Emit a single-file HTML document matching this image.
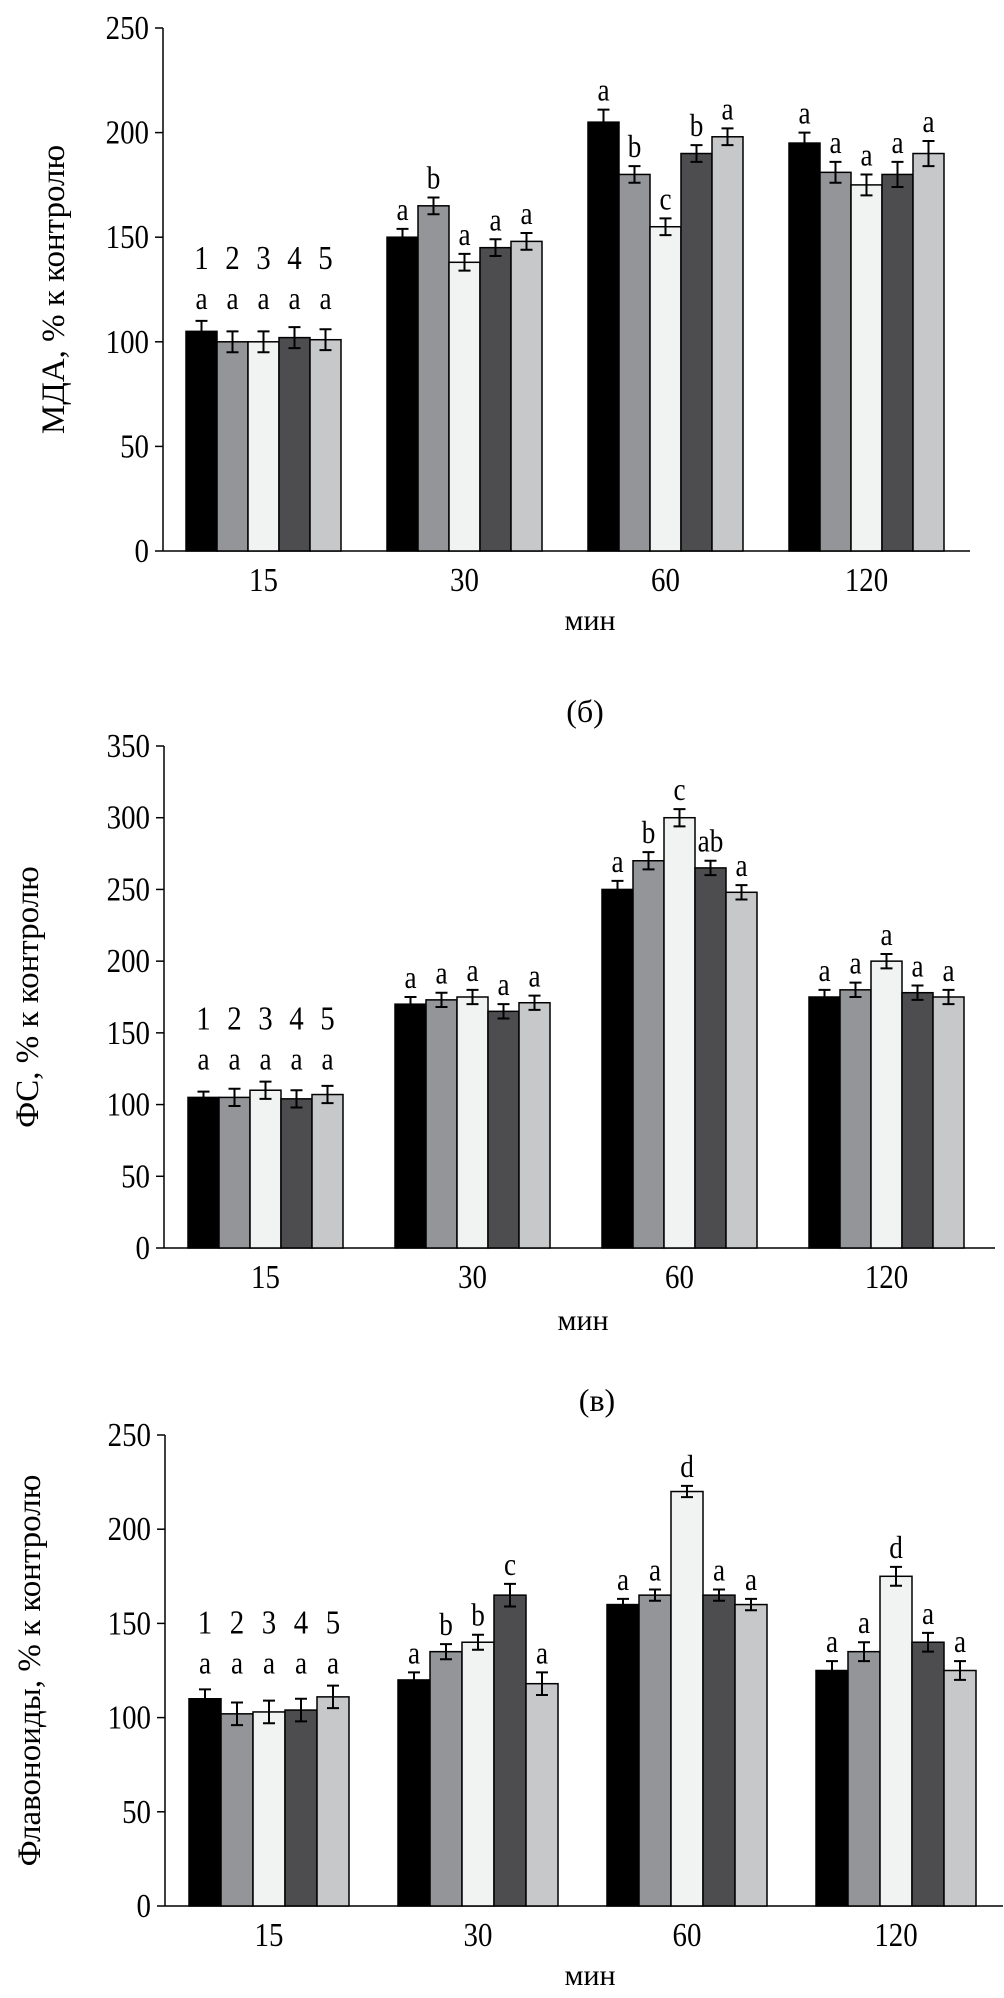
<!DOCTYPE html>
<html><head><meta charset="utf-8"><style>
html,body{margin:0;padding:0;background:#fff;}
svg{display:block;}
text{font-family:"Liberation Serif","DejaVu Serif",serif;fill:#000;}
</style></head><body>
<svg id="fig" width="1004" height="1998" viewBox="0 0 1004 1998" xmlns="http://www.w3.org/2000/svg"></svg>
<script>
const categories = ["15","30","60","120"];
const seriesColors = ["#000000","#939598","#f1f2f2","#4d4d4f","#c7c8ca"];
const seriesNumbers = ["1","2","3","4","5"];

const mdaValues = [[105,100,100,102,101],[150,165,138,145,148],[205,180,155,190,198],[195,181,175,180,190]];
const mdaErrors = [[5,5,5,5,5],[4,4,4,4,4],[6,4,4,4,4],[5,5,5,6,6]];
const mdaLetters = [["a","a","a","a","a"],["a","b","a","a","a"],["a","b","c","b","a"],["a","a","a","a","a"]];
const mdaTicks = [0,50,100,150,200,250];

const fsValues = [[105,105,110,104,107],[170,173,175,165,171],[250,270,300,265,248],[175,180,200,178,175]];
const fsErrors = [[4,6,6,6,6],[5,5,5,5,5],[6,6,6,5,5],[5,5,5,5,5]];
const fsLetters = [["a","a","a","a","a"],["a","a","a","a","a"],["a","b","c","ab","a"],["a","a","a","a","a"]];
const fsTicks = [0,50,100,150,200,250,300,350];

const flValues = [[110,102,103,104,111],[120,135,140,165,118],[160,165,220,165,160],[125,135,175,140,125]];
const flErrors = [[5,6,6,6,6],[4,4,4,6,6],[3,3,3,3,3],[5,5,5,5,5]];
const flLetters = [["a","a","a","a","a"],["a","b","b","c","a"],["a","a","d","a","a"],["a","a","d","a","a"]];
const flTicks = [0,50,100,150,200,250];

const NS="http://www.w3.org/2000/svg";
const svg=document.getElementById('fig');
function mk(tag,attrs,parent){const e=document.createElementNS(NS,tag);for(const k in attrs)e.setAttribute(k,attrs[k]);(parent||svg).appendChild(e);return e;}

function drawChart(cfg){
  const g=mk('g',{});
  
  
  const ymax=cfg.ticks[cfg.ticks.length-1];
  const y=v=>cfg.zero-(v/ymax)*(cfg.zero-cfg.top);
  const gx=i=>cfg.firstGroup+i*cfg.groupStep;
  const bx=(i,j)=>gx(i)+j*cfg.barW;
  const ya=mk('line',{x1:cfg.axisX,y1:cfg.top,x2:cfg.axisX,y2:cfg.zero,stroke:'#000','stroke-width':1.5},g);
  
  const xa=mk('line',{x1:cfg.axisX,y1:cfg.zero,x2:cfg.right,y2:cfg.zero,stroke:'#000','stroke-width':1.5},g);
  
  cfg.ticks.forEach(t=>{
    const tl=mk('line',{x1:cfg.axisX-8,y1:y(t),x2:cfg.axisX,y2:y(t),stroke:'#000','stroke-width':1.5},g);
    
    const tx=mk('text',{x:0,y:0,'text-anchor':'end','font-size':34,transform:`translate(${cfg.axisX-14},${y(t)+11}) scale(0.85,1)`},g);
    
    tx.textContent=t;
  });
  cfg.values.forEach((grp,i)=>{
    let rowTop=Infinity;
    grp.forEach((v,j)=>{rowTop=Math.min(rowTop,y(v+cfg.errors[i][j]));});
    grp.forEach((v,j)=>{
      const r=mk('rect',{x:bx(i,j),y:y(v),width:cfg.barW,height:cfg.zero-y(v),fill:seriesColors[j],stroke:'#000','stroke-width':1.5},g);
      
      
      const cx=bx(i,j)+cfg.barW/2, e=cfg.errors[i][j];
      const eb=mk('path',{d:`M${cx},${y(v+e)}V${y(v-e)}M${cx-6},${y(v+e)}H${cx+6}M${cx-6},${y(v-e)}H${cx+6}`,stroke:'#000','stroke-width':2,fill:'none'},g);
      
      const ly = i===0 ? rowTop-12 : y(v+e)-9;
      const lt=mk('text',{x:0,y:0,'text-anchor':'middle','font-size':32,transform:`translate(${cx},${ly}) scale(0.85,1)`},g);
      
      lt.textContent=cfg.letters[i][j];
      if(i===0){
        const nt=mk('text',{x:0,y:0,'text-anchor':'middle','font-size':34,transform:`translate(${cx},${rowTop-52}) scale(0.85,1)`},g);
        
        nt.textContent=seriesNumbers[j];
      }
    });
    const ct=mk('text',{x:0,y:0,'text-anchor':'middle','font-size':34,transform:`translate(${gx(i)+cfg.barW*2.5},${cfg.zero+40}) scale(0.85,1)`},g);
    
    ct.textContent=categories[i];
  });
  const xt=mk('text',{x:cfg.xTitleX,y:cfg.xTitleY,'text-anchor':'middle','font-size':30},g);
  
  xt.textContent='мин';
  const yt=mk('text',{x:0,y:0,'text-anchor':'middle','font-size':33,transform:`translate(${cfg.yTitleX},${(cfg.top+cfg.zero)/2}) rotate(-90)`},g);
  
  yt.textContent=cfg.ytitle;
  if(cfg.panel){
    const pt=mk('text',{x:cfg.panelX,y:cfg.panelY,'text-anchor':'middle','font-size':32},g);
    
    pt.textContent=cfg.panel;
  }
}

drawChart({name:'chart-mda',values:mdaValues,errors:mdaErrors,letters:mdaLetters,ticks:mdaTicks,
  top:28,zero:551,axisX:163,right:970,firstGroup:186,groupStep:201,barW:31,
  xTitleX:590,xTitleY:630,yTitleX:64,ytitle:'МДА, % к контролю',panel:null});
drawChart({name:'chart-fs',values:fsValues,errors:fsErrors,letters:fsLetters,ticks:fsTicks,
  top:746,zero:1248,axisX:164,right:995,firstGroup:188,groupStep:207,barW:31,
  xTitleX:583,xTitleY:1330,yTitleX:38,ytitle:'ФС, % к контролю',panel:'(б)',panelX:585,panelY:722});
drawChart({name:'chart-flavonoids',values:flValues,errors:flErrors,letters:flLetters,ticks:flTicks,
  top:1435,zero:1906,axisX:165,right:1003,firstGroup:189,groupStep:209,barW:32,
  xTitleX:590,xTitleY:1985,yTitleX:40,ytitle:'Флавоноиды, % к контролю',panel:'(в)',panelX:597,panelY:1411});
</script>
</body></html>
